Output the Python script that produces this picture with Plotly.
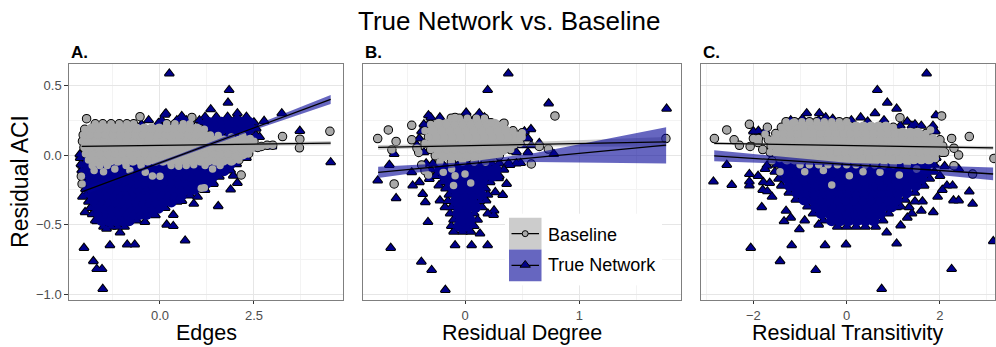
import plotly.graph_objects as go

FONT = "Liberation Sans, Arial, sans-serif"
NAVY = "#00008b"
GREY = "#a9a9a9"
BAND_GREY = "rgba(153,153,153,0.5)"
BAND_BLUE = "rgba(0,0,150,0.6)"

# Dense clusters are stored as lists of (y, [x, ...]) rows, sparse points as (x, y).

# ---------------- Panel A: Edges ----------------
A_BASE_CORES = [[
    (-0.075, [-1.8, -1.6, -1.4, -0.9, -0.5, 0.3, 0.7, 1.2, 1.6]),
    (-0.035, [-1.9, -1.72, -1.52, -1.32, -1.12, -0.92, -0.72, -0.52, -0.32, -0.12, 0.08, 0.28, 0.48, 0.68, 0.88, 1.08, 1.28, 1.48, 1.68, 1.9, 2.1]),
    (0.01, [-1.98, -1.8, -1.6, -1.4, -1.2, -1.0, -0.8, -0.6, -0.4, -0.2, 0.0, 0.2, 0.4, 0.6, 0.8, 1.0, 1.2, 1.4, 1.6, 1.8, 2.0, 2.2, 2.36]),
    (0.055, [-2.02, -1.84, -1.64, -1.44, -1.24, -1.04, -0.84, -0.64, -0.44, -0.24, -0.04, 0.16, 0.36, 0.56, 0.76, 0.96, 1.16, 1.36, 1.56, 1.76, 1.96, 2.16, 2.4, 2.6]),
    (0.10, [-2.06, -1.9, -1.7, -1.5, -1.3, -1.1, -0.9, -0.7, -0.5, -0.3, -0.1, 0.1, 0.3, 0.5, 0.7, 0.9, 1.1, 1.3, 1.5, 1.7, 1.9, 2.1, 2.3, 2.5]),
    (0.145, [-2.04, -1.86, -1.66, -1.46, -1.26, -1.06, -0.86, -0.66, -0.46, -0.26, -0.06, 0.14, 0.34, 0.54, 0.74, 0.94, 1.14, 1.34]),
    (0.185, [-2.0, -1.82, -1.62, -1.42, -1.22, -1.02, -0.82, -0.62, -0.42, -0.22, -0.02, 0.18, 0.38, 0.58, 0.78, 0.98, 1.18]),
    (0.225, [-1.72, -1.52, -1.30, -1.08, -0.88, -0.70, 0.18, 0.40, 0.62, 0.80]),
]]
A_BASE_EXTRA = [
    (-1.95, 0.262), (-2.09, -0.152), (-2.07, -0.207), (-0.53, 0.276), (3.26, 0.133),
    (3.72, 0.114), (3.71, 0.052), (4.52, 0.171), (3.0, 0.071), (2.70, 0.062),
    (2.85, 0.07), (2.16, -0.143), (1.10, -0.238), (1.18, -0.235), (0.0, -0.152),
    (-0.2, -0.15), (-0.39, -0.124), (2.34, 0.01), (2.4, 0.12), (0.85, 0.271),
    (-1.75, -0.11), (-1.5, -0.12), (-1.2, -0.1), (0.5, -0.08), (0.9, -0.07),
    (1.4, -0.1), (1.6, -0.05), (2.0, -0.01), (2.2, 0.03), (-0.8, -0.11),
    (1.55, 0.14), (1.9, 0.13), (2.2, 0.14),
]
A_TRUE_CORES = [[
    (-0.515, [-1.5, -1.3, -1.12, -0.94]),
    (-0.47, [-1.72, -1.54, -1.36, -1.18, -1.0, -0.82, -0.62]),
    (-0.425, [-1.8, -1.62, -1.44, -1.26, -1.08, -0.9, -0.72, -0.54, -0.36, -0.16]),
    (-0.38, [-1.85, -1.66, -1.48, -1.3, -1.12, -0.94, -0.76, -0.58, -0.4, -0.22, -0.04, 0.14]),
    (-0.335, [-1.9, -1.72, -1.54, -1.36, -1.18, -1.0, -0.82, -0.64, -0.46, -0.28, -0.1, 0.1, 0.3, 0.46]),
    (-0.29, [-1.96, -1.78, -1.6, -1.42, -1.24, -1.06, -0.88, -0.7, -0.52, -0.34, -0.16, 0.02, 0.2, 0.38, 0.56, 0.8]),
    (-0.245, [-1.98, -1.8, -1.62, -1.44, -1.26, -1.08, -0.9, -0.72, -0.54, -0.36, -0.18, 0.0, 0.18, 0.36, 0.54, 0.72, 0.9, 1.08]),
    (-0.2, [-2.0, -1.82, -1.64, -1.46, -1.28, -1.1, -0.92, -0.74, -0.56, -0.38, -0.2, -0.02, 0.16, 0.34, 0.52, 0.7, 0.88, 1.06, 1.24, 1.42]),
    (-0.155, [-2.02, -1.84, -1.66, -1.48, -1.3, -1.12, -0.94, -0.76, -0.58, -0.4, -0.22, -0.04, 0.14, 0.32, 0.5, 0.68, 0.86, 1.04, 1.22, 1.4, 1.58]),
    (-0.11, [-2.08, -1.9, -1.72, -1.54, -1.36, -1.18, -1.0, -0.82, -0.64, -0.46, -0.28, -0.1, 0.08, 0.26, 0.44, 0.62, 0.8, 0.98, 1.16, 1.34, 1.52, 1.7, 1.88]),
    (-0.065, [-2.1, -1.92, -1.74, -1.56, -1.38, -1.2, -1.02, -0.84, -0.66, -0.48, -0.3, -0.12, 0.06, 0.24, 0.42, 0.6, 0.78, 0.96, 1.14, 1.32, 1.5, 1.68, 1.86, 2.04]),
    (-0.02, [-2.12, -1.95, -1.0, 0.0, 1.0, 1.9, 2.1, 2.3]),
], [
    (0.145, [1.45, 1.63, 1.81, 1.99, 2.17, 2.35, 2.55]),
    (0.19, [1.3, 1.48, 1.66, 1.84, 2.02, 2.2, 2.38, 2.56]),
    (0.235, [1.1, 1.28, 1.46, 1.64, 1.82, 2.0, 2.18, 2.36, 2.5]),
    (0.275, [1.2, 1.5, 1.8, 2.05, 2.3]),
]]
A_TRUE_EXTRA = [
    (0.25, 0.586), (1.84, 0.467), (1.81, 0.376), (1.35, 0.329), (0.16, 0.30),
    (0.60, 0.267), (2.06, 0.30), (3.24, 0.30), (2.77, 0.245), (3.72, 0.174),
    (4.54, -0.052), (2.98, 0.062), (1.95, -0.148), (2.06, -0.2), (1.88, -0.248),
    (1.55, -0.367), (1.42, -0.207), (0.585, -0.329), (0.355, -0.43), (0.18, -0.5),
    (0.355, -0.51), (0.67, -0.614), (-0.12, -0.433), (-0.67, -0.643), (-0.87, -0.643),
    (-1.33, -0.648), (-1.06, -0.557), (-2.02, -0.667), (-1.77, -0.762), (-1.68, -0.819),
    (-1.54, -0.819), (-1.52, -0.962), (-2.13, 0.005), (-2.06, -0.076), (-2.06, -0.30),
    (-1.99, -0.41), (-1.68, -0.476), (-1.42, -0.53), (1.0, -0.3), (1.2, -0.25),
    (0.9, -0.35), (-0.4, -0.48), (2.55, 0.05), (2.5, 0.13), (2.65, 0.13),
    (0.13, 0.29), (0.58, 0.28), (-0.93, 0.21), (-0.49, 0.22), (-0.04, 0.23),
    (0.4, 0.23), (0.84, 0.22), (-0.3, 0.25), (0.05, 0.25), (0.45, 0.25),
    (0.7, 0.25), (1.05, 0.25),
]
A_BASE_FIT = dict(x=[-2.08, 4.54], y=[0.062, 0.086])
A_BASE_BAND = dict(x=[-2.08, 0.5, 4.54], lo=[0.052, 0.064, 0.070], hi=[0.072, 0.076, 0.102])
A_TRUE_FIT = dict(x=[-2.06, 4.54], y=[-0.262, 0.40])
A_TRUE_BAND = dict(x=[-2.06, -0.8, 0.5, 2.5, 4.54],
                   lo=[-0.292, -0.149, -0.015, 0.180, 0.368],
                   hi=[-0.232, -0.123, 0.005, 0.212, 0.432])

# ---------------- Panel B: Residual Degree ----------------
B_BASE_CORES = [[
    (-0.05, [-0.22, -0.12, -0.02, 0.08, 0.18]),
    (-0.005, [-0.26, -0.19, -0.12, -0.05, 0.02, 0.09, 0.16, 0.23, 0.3]),
    (0.04, [-0.3, -0.23, -0.16, -0.09, -0.02, 0.05, 0.12, 0.19, 0.26, 0.33, 0.4]),
    (0.085, [-0.35, -0.28, -0.21, -0.14, -0.07, 0.0, 0.07, 0.14, 0.21, 0.28, 0.35, 0.42, 0.48]),
    (0.13, [-0.32, -0.25, -0.18, -0.11, -0.04, 0.03, 0.1, 0.17, 0.24, 0.31, 0.38, 0.45, 0.5]),
    (0.175, [-0.35, -0.28, -0.21, -0.14, -0.07, 0.0, 0.07, 0.14, 0.21, 0.28, 0.35, 0.42]),
    (0.22, [-0.3, -0.23, -0.16, -0.09, -0.02, 0.05, 0.12, 0.19, 0.26, 0.33]),
    (0.265, [-0.12, -0.05, 0.02, 0.1, 0.17]),
]]
B_BASE_EXTRA = [
    (-0.764, 0.119), (-0.671, 0.181), (-0.603, 0.098), (-0.64, 0.038), (-0.62, -0.207),
    (-0.466, 0.214), (-0.466, 0.11), (-0.405, 0.019), (0.787, 0.281), (1.758, 0.119),
    (0.65, 0.062), (0.729, 0.043), (0.58, -0.064), (0.48, 0.138), (0.5, 0.16),
    (0.341, 0.229), (0.227, 0.233), (-0.087, 0.271), (-0.379, -0.071), (-0.35, -0.112),
    (-0.32, -0.143), (-0.19, -0.124), (-0.117, -0.1), (-0.087, -0.148), (0.0, -0.136),
    (-0.1, -0.219), (0.05, -0.2), (-0.42, 0.05),
]
B_TRUE_CORES = [[
    (-0.55, [-0.1, -0.02, 0.05]),
    (-0.51, [-0.12, -0.05, 0.02, 0.08]),
    (-0.465, [-0.1, -0.03, 0.04, 0.11]),
    (-0.42, [-0.13, -0.06, 0.01, 0.08]),
    (-0.375, [-0.12, -0.05, 0.02, 0.09, 0.15]),
    (-0.33, [-0.15, -0.08, -0.01, 0.06, 0.13]),
    (-0.285, [-0.14, -0.07, 0.0, 0.07, 0.14, 0.2]),
    (-0.24, [-0.17, -0.1, -0.03, 0.04, 0.11, 0.18]),
    (-0.195, [-0.2, -0.13, -0.06, 0.01, 0.08, 0.15, 0.22]),
    (-0.15, [-0.26, -0.18, -0.11, -0.04, 0.03, 0.1, 0.17, 0.24, 0.3]),
    (-0.105, [-0.3, -0.22, -0.15, -0.08, -0.01, 0.06, 0.13, 0.2, 0.27, 0.34]),
    (-0.06, [-0.34, -0.28, -0.2, -0.12, -0.05, 0.02, 0.09, 0.16, 0.23, 0.3, 0.38, 0.45]),
]]
B_TRUE_EXTRA = [
    (0.379, 0.586), (0.198, 0.467), (0.732, 0.371), (1.764, 0.333), (0.577, 0.186),
    (0.65, 0.086), (0.778, 0.007), (-0.662, -0.071), (-0.62, 0.007), (-0.764, -0.183),
    (-0.603, -0.31), (-0.65, -0.667), (-0.382, -0.767), (-0.292, -0.826), (-0.172, -0.969),
    (-0.324, -0.481), (-0.087, -0.648), (0.058, -0.648), (0.198, -0.648), (0.131, -0.564),
    (0.184, -0.326), (0.254, -0.398), (0.33, -0.286), (0.364, -0.207), (0.294, -0.167),
    (0.265, -0.267), (0.394, -0.071), (0.487, -0.057), (-0.466, -0.124), (-0.458, -0.219),
    (-0.399, -0.195), (-0.37, -0.279), (-0.347, -0.338), (-0.312, -0.171), (-0.23, -0.219),
    (-0.219, -0.326), (-0.175, -0.374), (-0.32, 0.286), (0.125, 0.30), (0.01, 0.305),
    (0.2, -0.42), (0.25, -0.43), (-0.36, 0.02), (0.45, 0.02), (0.55, 0.02),
    (-0.42, 0.07), (0.5, 0.07), (0.58, 0.07), (-0.4, 0.12), (0.55, 0.12),
    (-0.38, 0.17), (0.52, 0.17), (-0.36, 0.22), (-0.32, 0.22), (-0.3, 0.27),
    (-0.22, 0.27), (0.02, 0.27), (0.1, 0.27), (0.17, 0.27),
]
B_BASE_FIT = dict(x=[-0.76, 1.76], y=[0.055, 0.095])
B_BASE_BAND = dict(x=[-0.76, 0.05, 1.76], lo=[0.038, 0.064, 0.060], hi=[0.072, 0.080, 0.130])
B_TRUE_FIT = dict(x=[-0.76, 1.76], y=[-0.124, 0.071])
B_TRUE_BAND = dict(x=[-0.76, 0.0, 0.6, 1.76],
                   lo=[-0.164, -0.078, -0.050, -0.060],
                   hi=[-0.084, -0.052, 0.014, 0.200])

# ---------------- Panel C: Residual Transitivity ----------------
C_BASE_CORES = [[
    (-0.07, [-1.0, -0.8, -0.6, -0.4, -0.2, 0.0, 0.2, 0.4, 0.6, 0.8, 1.0, 1.3]),
    (-0.025, [-1.44, -1.28, -1.12, -0.96, -0.8, -0.64, -0.48, -0.32, -0.16, 0.0, 0.16, 0.32, 0.48, 0.64, 0.8, 0.96, 1.12, 1.28, 1.44, 1.6, 1.76, 1.9]),
    (0.02, [-1.64, -1.48, -1.32, -1.16, -1.0, -0.84, -0.68, -0.52, -0.36, -0.2, -0.04, 0.12, 0.28, 0.44, 0.6, 0.76, 0.92, 1.08, 1.24, 1.4, 1.56, 1.72, 1.88, 2.04]),
    (0.065, [-1.62, -1.46, -1.3, -1.14, -0.98, -0.82, -0.66, -0.5, -0.34, -0.18, -0.02, 0.14, 0.3, 0.46, 0.62, 0.78, 0.94, 1.1, 1.26, 1.42, 1.58, 1.74, 1.9, 2.06]),
    (0.11, [-1.68, -1.52, -1.36, -1.2, -1.04, -0.88, -0.72, -0.56, -0.4, -0.24, -0.08, 0.08, 0.24, 0.4, 0.56, 0.72, 0.88, 1.04, 1.2, 1.36, 1.52, 1.68, 1.84, 2.0]),
    (0.155, [-1.52, -1.36, -1.2, -1.04, -0.88, -0.72, -0.56, -0.4, -0.24, -0.08, 0.08, 0.24, 0.4, 0.56, 0.72, 0.88, 1.04, 1.2, 1.36, 1.52, 1.7]),
    (0.2, [-1.4, -1.24, -1.08, -0.92, -0.76, -0.6, -0.44, -0.28, -0.12, 0.04, 0.2, 0.36, 0.52, 0.68, 0.84, 1.0]),
    (0.24, [-1.3, -1.12, -0.96, -0.8, -0.64, -0.48, -0.32, -0.16, 0.0]),
]]
C_BASE_EXTRA = [
    (-2.836, 0.119), (-2.571, 0.181), (-2.414, 0.11), (-2.086, 0.221), (-1.893, 0.119),
    (-2.07, 0.062), (-2.3, 0.07), (-1.157, 0.233), (1.143, 0.269), (2.036, 0.281),
    (2.629, 0.133), (3.157, -0.024), (2.7, -0.136), (2.3, -0.076), (2.25, 0.12),
    (2.3, 0.05), (1.8, 0.18), (1.129, -0.143), (0.714, -0.124), (0.057, -0.148),
    (-0.32, -0.214), (-1.43, -0.119), (-0.9, -0.12), (-0.5, -0.11), (0.35, -0.12),
    (1.5, -0.1), (2.1, 0.02), (2.4, 0.0), (-1.75, 0.15), (-1.9, 0.09), (-1.8, 0.04),
    (-2.0, 0.12), (-1.7, 0.2), (-1.6, -0.04),
]
C_TRUE_CORES = [[
    (-0.515, [-0.2, 0.0, 0.2, 0.4, 0.62]),
    (-0.47, [-0.5, -0.32, -0.14, 0.04, 0.22, 0.4, 0.58, 0.78]),
    (-0.42, [-0.72, -0.54, -0.36, -0.18, 0.0, 0.18, 0.36, 0.54, 0.72, 0.9]),
    (-0.37, [-0.84, -0.66, -0.48, -0.3, -0.12, 0.06, 0.24, 0.42, 0.6, 0.78, 0.96, 1.16]),
    (-0.32, [-1.09, -0.91, -0.73, -0.55, -0.37, -0.19, -0.01, 0.17, 0.35, 0.53, 0.71, 0.89, 1.07, 1.25]),
    (-0.27, [-1.24, -1.06, -0.88, -0.7, -0.52, -0.34, -0.16, 0.02, 0.2, 0.38, 0.56, 0.74, 0.92, 1.1, 1.28, 1.46]),
    (-0.22, [-1.4, -1.22, -1.04, -0.86, -0.68, -0.5, -0.32, -0.14, 0.04, 0.22, 0.4, 0.58, 0.76, 0.94, 1.12, 1.3, 1.48, 1.66]),
    (-0.17, [-1.46, -1.28, -1.1, -0.92, -0.74, -0.56, -0.38, -0.2, -0.02, 0.16, 0.34, 0.52, 0.7, 0.88, 1.06, 1.24, 1.42, 1.6, 1.78]),
    (-0.12, [-1.54, -1.36, -1.18, -1.0, -0.82, -0.64, -0.46, -0.28, -0.1, 0.08, 0.26, 0.44, 0.62, 0.8, 0.98, 1.16, 1.34, 1.52, 1.7, 1.88]),
    (-0.07, [-1.5, -1.36, -1.18, -1.0, -0.82, -0.64, -0.46, -0.28, -0.1, 0.08, 0.26, 0.44, 0.62, 0.8, 0.98, 1.16, 1.34, 1.52, 1.7, 1.88]),
    (-0.02, [-1.3, -0.6, 0.2, 1.0, 1.75, 1.92]),
]]
C_TRUE_EXTRA = [
    (1.714, 0.586), (0.657, 0.467), (0.871, 0.376), (1.071, 0.333), (0.607, 0.30),
    (1.914, 0.286), (1.464, 0.221), (-0.857, 0.30), (-0.586, 0.30), (-1.893, 0.174),
    (-2.857, -0.19), (-2.571, -0.071), (-2.464, -0.214), (-2.086, -0.136), (-2.086, -0.219),
    (-2.086, -0.19), (-1.821, -0.374), (-1.786, -0.195), (-1.343, -0.476), (-2.057, -0.667),
    (-1.429, -0.762), (-1.179, -0.648), (-1.014, -0.533), (-0.464, -0.648), (-0.014, -0.643),
    (-0.664, -0.826), (0.75, -0.962), (1.071, -0.636), (0.857, -0.557), (2.25, -0.819),
    (3.143, -0.619), (2.629, -0.262), (2.7, -0.35), (2.29, -0.326), (2.4, -0.326),
    (2.27, -0.219), (2.15, -0.219), (1.857, -0.41), (1.071, -0.374), (1.34, -0.374),
    (1.157, -0.505), (1.464, -0.333), (1.625, -0.333), (-1.6, -0.3), (-1.7, -0.26),
    (-0.9, -0.47), (-0.6, -0.5), (2.1, -0.08), (2.4, -0.1), (-1.71, -0.076),
    (-1.75, -0.1), (-1.9, -0.15), (-1.65, -0.2), (-1.8, -0.25), (-1.3, -0.4),
    (-1.2, -0.45), (1.4, -0.42), (1.6, -0.4), (1.3, -0.45), (2.0, -0.15),
    (2.05, -0.25), (1.95, -0.3), (-2.0, 0.17), (-1.75, 0.17), (1.9, 0.17),
    (1.15, 0.21), (1.4, 0.21), (1.6, 0.21), (1.85, 0.21), (-1.2, 0.25),
    (-0.95, 0.26), (-0.6, 0.25), (-0.3, 0.26), (0.1, 0.25), (0.45, 0.24),
    (0.8, 0.25), (1.3, 0.24), (-0.45, 0.27), (0.3, 0.27),
]
C_BASE_FIT = dict(x=[-2.84, 3.14], y=[0.084, 0.052])
C_BASE_BAND = dict(x=[-2.84, 0.0, 3.14], lo=[0.074, 0.064, 0.038], hi=[0.094, 0.076, 0.066])
C_TRUE_FIT = dict(x=[-2.84, 3.14], y=[-0.005, -0.136])
C_TRUE_BAND = dict(x=[-2.84, 0.0, 3.14], lo=[-0.045, -0.078, -0.180], hi=[0.035, -0.055, -0.090])

# axis setup per panel
X_RANGES = [[-2.41, 4.86], [-0.89, 1.89], [-3.13, 3.18]]
X_TICKS = [[0, 2.5], [0, 1], [-2, 0, 2]]
X_TICKTEXT = [["0.0", "2.5"], ["0", "1"], ["\u22122", "0", "2"]]
X_MINOR = [[-1.25, 1.25, 3.75], [-0.5, 0.5, 1.5], [-3, -1, 1, 3]]
X_TITLES = ["Edges", "Residual Degree", "Residual Transitivity"]
PANEL_TAGS = ["A.", "B.", "C."]
Y_RANGE = [-1.043, 0.655]
Y_TICKS = [0.5, 0.0, -0.5, -1.0]
Y_TICKTEXT = ["0.5", "0.0", "\u22120.5", "\u22121.0"]
Y_MINOR = [0.25, -0.25, -0.75]

W, H = 996, 347
PANEL_PX = [(69.3, 342.7), (363.3, 681.0), (700.7, 995.0)]
PANEL_TOP, PANEL_BOTTOM = 64.3, 302.0

PT_SIZE = 7.5        # fill size of each point
TRI_SIZE = 8.0
RIM = 2.0            # outline stroke (half of it shows outside the fill)
CORE_FILL = 11.5     # solid fill under the interior of dense clusters


def all_points(cores, extra):
    xs, ys = [], []
    for rows in cores:
        for y, row in rows:
            xs.extend(row)
            ys.extend([y] * len(row))
    for x, y in extra:
        xs.append(x)
        ys.append(y)
    return xs, ys


def interior_points(cores):
    xs, ys = [], []
    for rows in cores:
        for j, (y, row) in enumerate(rows):
            if 0 < j < len(rows) - 1 and len(row) > 2:
                xs.extend(row[1:-1])
                ys.extend([y] * (len(row) - 2))
    return xs, ys


def band_polygon(b):
    return b["x"] + b["x"][::-1] + [b["x"][0]], b["hi"] + b["lo"][::-1] + [b["hi"][0]]


def pts(x, y, xa, ya, symbol, size, color, rim=0.0):
    return go.Scatter(x=x, y=y, xaxis=xa, yaxis=ya, mode="markers", showlegend=False,
                      hoverinfo="skip",
                      marker=dict(symbol=symbol, size=size, color=color,
                                  line=dict(color="black", width=rim)))


panels = [
    (A_BASE_CORES, A_BASE_EXTRA, A_TRUE_CORES, A_TRUE_EXTRA, A_BASE_FIT, A_BASE_BAND, A_TRUE_FIT, A_TRUE_BAND),
    (B_BASE_CORES, B_BASE_EXTRA, B_TRUE_CORES, B_TRUE_EXTRA, B_BASE_FIT, B_BASE_BAND, B_TRUE_FIT, B_TRUE_BAND),
    (C_BASE_CORES, C_BASE_EXTRA, C_TRUE_CORES, C_TRUE_EXTRA, C_BASE_FIT, C_BASE_BAND, C_TRUE_FIT, C_TRUE_BAND),
]

fig = go.Figure()
for i, (bcores, bext, tcores, text, bfit, bband, tfit, tband) in enumerate(panels):
    sfx = "" if i == 0 else str(i + 1)
    xa, ya = "x" + sfx, "y" + sfx
    tx, ty = all_points(tcores, text)
    bx, by = all_points(bcores, bext)
    tix, tiy = interior_points(tcores)
    bix, biy = interior_points(bcores)
    # black rims first, then the coloured fills on top
    fig.add_trace(pts(tx, ty, xa, ya, "triangle-up", TRI_SIZE, "black", RIM))
    fig.add_trace(pts(bx, by, xa, ya, "circle", PT_SIZE, "black", RIM))
    fig.add_trace(pts(tix, tiy, xa, ya, "circle", CORE_FILL, NAVY))
    fig.add_trace(pts(tx, ty, xa, ya, "triangle-up", TRI_SIZE, NAVY))
    fig.add_trace(pts(bix, biy, xa, ya, "circle", CORE_FILL, GREY))
    fig.add_trace(pts(bx, by, xa, ya, "circle", PT_SIZE, GREY))

    for band, col in ((bband, BAND_GREY), (tband, BAND_BLUE)):
        px_, py_ = band_polygon(band)
        fig.add_trace(go.Scatter(x=px_, y=py_, xaxis=xa, yaxis=ya, mode="lines", fill="toself",
                                 fillcolor=col, line=dict(width=0), showlegend=False,
                                 hoverinfo="skip"))
    for fit in (bfit, tfit):
        fig.add_trace(go.Scatter(x=fit["x"], y=fit["y"], xaxis=xa, yaxis=ya, mode="lines",
                                 line=dict(color="black", width=1.3), showlegend=False))

    x0, x1 = PANEL_PX[i]
    fig.layout["xaxis" + sfx] = dict(
        domain=[x0 / W, x1 / W], range=X_RANGES[i], anchor=ya,
        tickvals=X_TICKS[i], ticktext=X_TICKTEXT[i], ticks="outside", ticklen=3,
        tickcolor="#333333", showline=True, mirror=True, linecolor="#7f7f7f", linewidth=1,
        showgrid=True, gridcolor="#e6e6e6", gridwidth=1, zeroline=False,
        minor=dict(tickvals=X_MINOR[i], showgrid=True, gridcolor="#f3f3f3", gridwidth=1, ticks=""),
        tickfont=dict(family=FONT, size=13, color="#4d4d4d"),
    )
    fig.layout["yaxis" + sfx] = dict(
        domain=[1 - PANEL_BOTTOM / H, 1 - PANEL_TOP / H], range=Y_RANGE, anchor=xa,
        tickvals=Y_TICKS, ticktext=Y_TICKTEXT, ticks="outside" if i == 0 else "",
        ticklen=4, tickcolor="#333333", showticklabels=(i == 0),
        showline=True, mirror=True, linecolor="#7f7f7f", linewidth=1,
        showgrid=True, gridcolor="#e6e6e6", gridwidth=1, zeroline=False,
        minor=dict(tickvals=Y_MINOR, showgrid=True, gridcolor="#f3f3f3", gridwidth=1, ticks=""),
        tickfont=dict(family=FONT, size=13, color="#4d4d4d"),
    )

# legend drawn inside panel B on a hidden axis measured in pixels
LEG_X = [505, 662]
LEG_Y = [215, 287]
fig.layout["xaxis4"] = dict(domain=[LEG_X[0] / W, LEG_X[1] / W], range=LEG_X, visible=False, anchor="y4")
fig.layout["yaxis4"] = dict(domain=[1 - LEG_Y[1] / H, 1 - LEG_Y[0] / H], range=[LEG_Y[1], LEG_Y[0]],
                            visible=False, anchor="x4")


def rect(x0, x1, y0, y1, col):
    return go.Scatter(x=[x0, x1, x1, x0, x0], y=[y0, y0, y1, y1, y0], xaxis="x4", yaxis="y4",
                      mode="lines", fill="toself", fillcolor=col, line=dict(width=0),
                      showlegend=False, hoverinfo="skip")


fig.add_trace(rect(505, 662, 215, 287, "white"))
fig.add_trace(rect(509, 541.5, 219, 251, "rgb(204,204,204)"))
fig.add_trace(rect(509, 541.5, 251, 283, "rgb(102,102,192)"))
for yk in (235, 267):
    fig.add_trace(go.Scatter(x=[511.5, 539], y=[yk, yk], xaxis="x4", yaxis="y4", mode="lines",
                             line=dict(color="black", width=1.3), showlegend=False))
fig.add_trace(go.Scatter(x=[525.2], y=[235], xaxis="x4", yaxis="y4", mode="markers", showlegend=False,
                         marker=dict(symbol="circle", size=6, color=GREY, line=dict(color="black", width=1))))
fig.add_trace(go.Scatter(x=[525.2], y=[266.5], xaxis="x4", yaxis="y4", mode="markers", showlegend=False,
                         marker=dict(symbol="triangle-up", size=9, color=NAVY, line=dict(color="black", width=1))))

annotations = [
    dict(text="True Network vs. Baseline", x=509 / W, y=1 - 21 / H, xref="paper", yref="paper",
         xanchor="center", yanchor="middle", showarrow=False, font=dict(family=FONT, size=26, color="black")),
    dict(text="Residual ACI", x=20 / W, y=1 - 183 / H, xref="paper", yref="paper", textangle=-90,
         xanchor="center", yanchor="middle", showarrow=False, font=dict(family=FONT, size=23, color="black")),
    dict(text="Baseline", x=546 / W, y=1 - 236 / H, xref="paper", yref="paper", xanchor="left",
         yanchor="middle", showarrow=False, font=dict(family=FONT, size=18, color="black")),
    dict(text="True Network", x=546 / W, y=1 - 267 / H, xref="paper", yref="paper", xanchor="left",
         yanchor="middle", showarrow=False, font=dict(family=FONT, size=18, color="black")),
]
for i in range(3):
    x0, x1 = PANEL_PX[i]
    annotations.append(dict(text="<b>" + PANEL_TAGS[i] + "</b>", x=x0 / W, y=1 - 52.5 / H,
                            xref="paper", yref="paper", xanchor="left", yanchor="middle",
                            showarrow=False, font=dict(family=FONT, size=17, color="black")))
    annotations.append(dict(text=X_TITLES[i], x=(x0 + x1) / 2 / W, y=1 - 334.5 / H,
                            xref="paper", yref="paper", xanchor="center", yanchor="middle",
                            showarrow=False, font=dict(family=FONT, size=21.5, color="black")))

fig.update_layout(width=W, height=H, autosize=False, margin=dict(l=0, r=0, t=0, b=0, pad=0),
                  paper_bgcolor="white", plot_bgcolor="white", showlegend=False,
                  annotations=annotations, font=dict(family=FONT))

fig.write_html("out.html")
